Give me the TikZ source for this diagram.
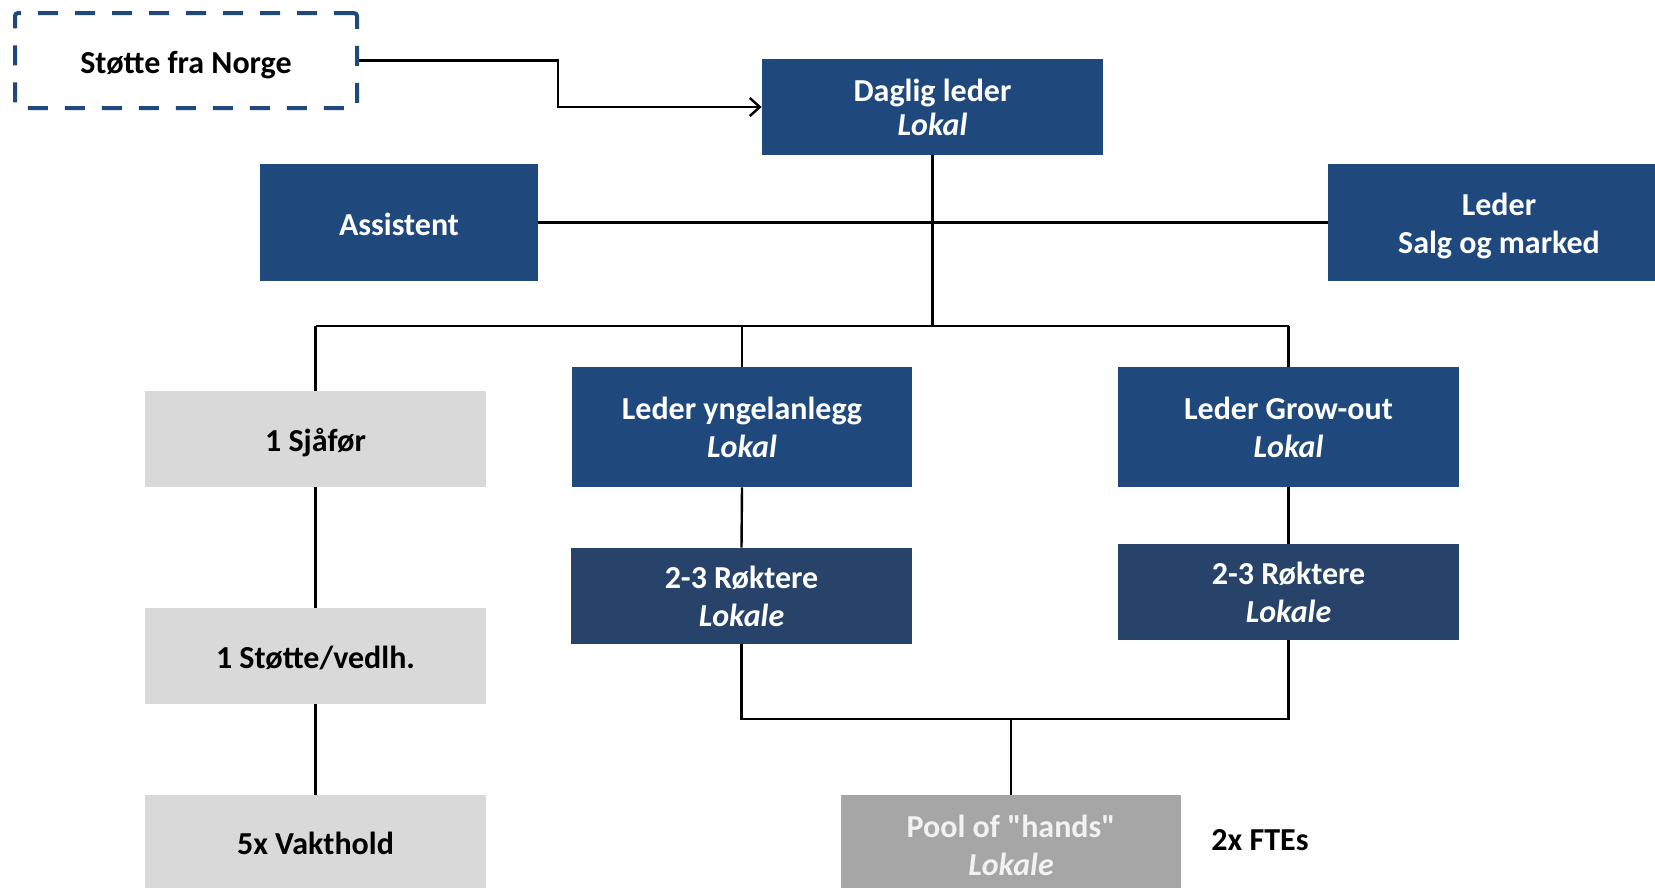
\documentclass[tikz,border=0pt]{standalone}
\usepackage{fontspec}
\setmainfont{Carlito}[Ligatures=TeXOff]
\usetikzlibrary{arrows.meta}
\definecolor{navy}{HTML}{1F497D}
\definecolor{navydark}{HTML}{27436A}
\definecolor{lightbox}{HTML}{D9D9D9}
\definecolor{poolgray}{HTML}{A6A6A6}
\definecolor{pooltext}{HTML}{F2F2F2}
\newcommand{\lowstrut}{\rule{0pt}{15pt}}
\begin{document}
\begin{tikzpicture}[x=0.5pt,y=-0.5pt,
  font=\fontsize{16}{17}\selectfont\bfseries,
  sz/.style 2 args={minimum width=#1*0.5pt, minimum height=#2*0.5pt},
  oneline/.style={text height=12.5pt, text depth=0pt},
  bluebox/.style={inner sep=0pt, align=center, text=white, fill=navy},
  darkbox/.style={inner sep=0pt, align=center, text=white, fill=navydark},
  greybox/.style={inner sep=0pt, align=center, text=black, fill=lightbox, oneline},
  poolbox/.style={inner sep=0pt, align=center, text=pooltext, fill=poolgray},
  wide/.style={font=\fontsize{16}{19}\selectfont\bfseries},
  conn/.style={draw=black, line width=1.2pt},
  arr/.style={conn, -{Straight Barb[length=5pt,width=9pt,line width=1.2pt]}}
]
\useasboundingbox (0,0) rectangle (1655,889);

% nodes
\node[draw=navy, line width=2pt, dash pattern=on 10pt off 8.5pt, rounded corners=1.5pt,
      sz={342}{95}, inner sep=0pt, oneline]
      (norge) at (186,60.5) {Støtte fra Norge};
\node[bluebox, sz={341}{96}] (daglig) at (932.5,107) {Daglig leder\\\textit{Lokal}};
\node[bluebox, sz={278}{117}, oneline] (assist) at (399,222.5) {Assistent};
\node[bluebox, wide, sz={342}{117}] (salg) at (1499,222.5) {\lowstrut Leder\\Salg og marked};
\node[greybox, sz={341}{96}] (sjafor) at (315.5,439) {1 Sjåfør};
\node[bluebox, wide, sz={340}{120}] (yngel) at (742,427) {Leder yngelanlegg\\\textit{Lokal}};
\node[bluebox, wide, sz={341}{120}] (grow) at (1288.5,427) {Leder Grow-out\\\textit{Lokal}};
\node[darkbox, wide, sz={341}{96}] (rok1) at (741.5,596) {2-3 Røktere\\\textit{Lokale}};
\node[darkbox, wide, sz={341}{96}] (rok2) at (1288.5,592) {2-3 Røktere\\\textit{Lokale}};
\node[greybox, sz={341}{96}] (stotte) at (315.5,656) {1 Støtte/vedlh.};
\node[greybox, sz={341}{93}] (vakt) at (315.5,841.5) {5x Vakthold};
\node[poolbox, wide, sz={340}{93}] (pool) at (1011,841.5) {\lowstrut Pool of "hands"\\\textit{Lokale}};
\node[inner sep=0pt] (fte) at (1260,840) {2x FTEs};

% junction coordinates
\coordinate (bend1) at (558,60.5);
\coordinate (bend2) at (558,107);
\coordinate (busmid) at (932.5,326);
\coordinate (busL) at (315.5,326);
\coordinate (busY) at (742,326);
\coordinate (busR) at (1288.5,326);
\coordinate (lowL) at (741.5,719);
\coordinate (lowR) at (1288.5,719);
\coordinate (lowM) at (1011,719);

% connectors
\draw[arr] (norge.east) -- (bend1) -- (bend2) -- (daglig.west);
\draw[conn] (assist.east) -- (salg.west);
\draw[conn] (daglig.south) -- (busmid);
\draw[conn] (busL) -- (busR);
\draw[conn] (busL) -- (sjafor.north);
\draw[conn] (busY) -- (yngel.north);
\draw[conn] (busR) -- (grow.north);
\draw[conn] (sjafor.south) -- (stotte.north);
\draw[conn] (stotte.south) -- (vakt.north);
\draw[conn] (yngel.south) -- (rok1.north);
\draw[conn] (grow.south) -- (rok2.north);
\draw[conn] (rok1.south) -- (lowL) -- (lowR) -- (rok2.south);
\draw[conn] (lowM) -- (pool.north);
\end{tikzpicture}
\end{document}
